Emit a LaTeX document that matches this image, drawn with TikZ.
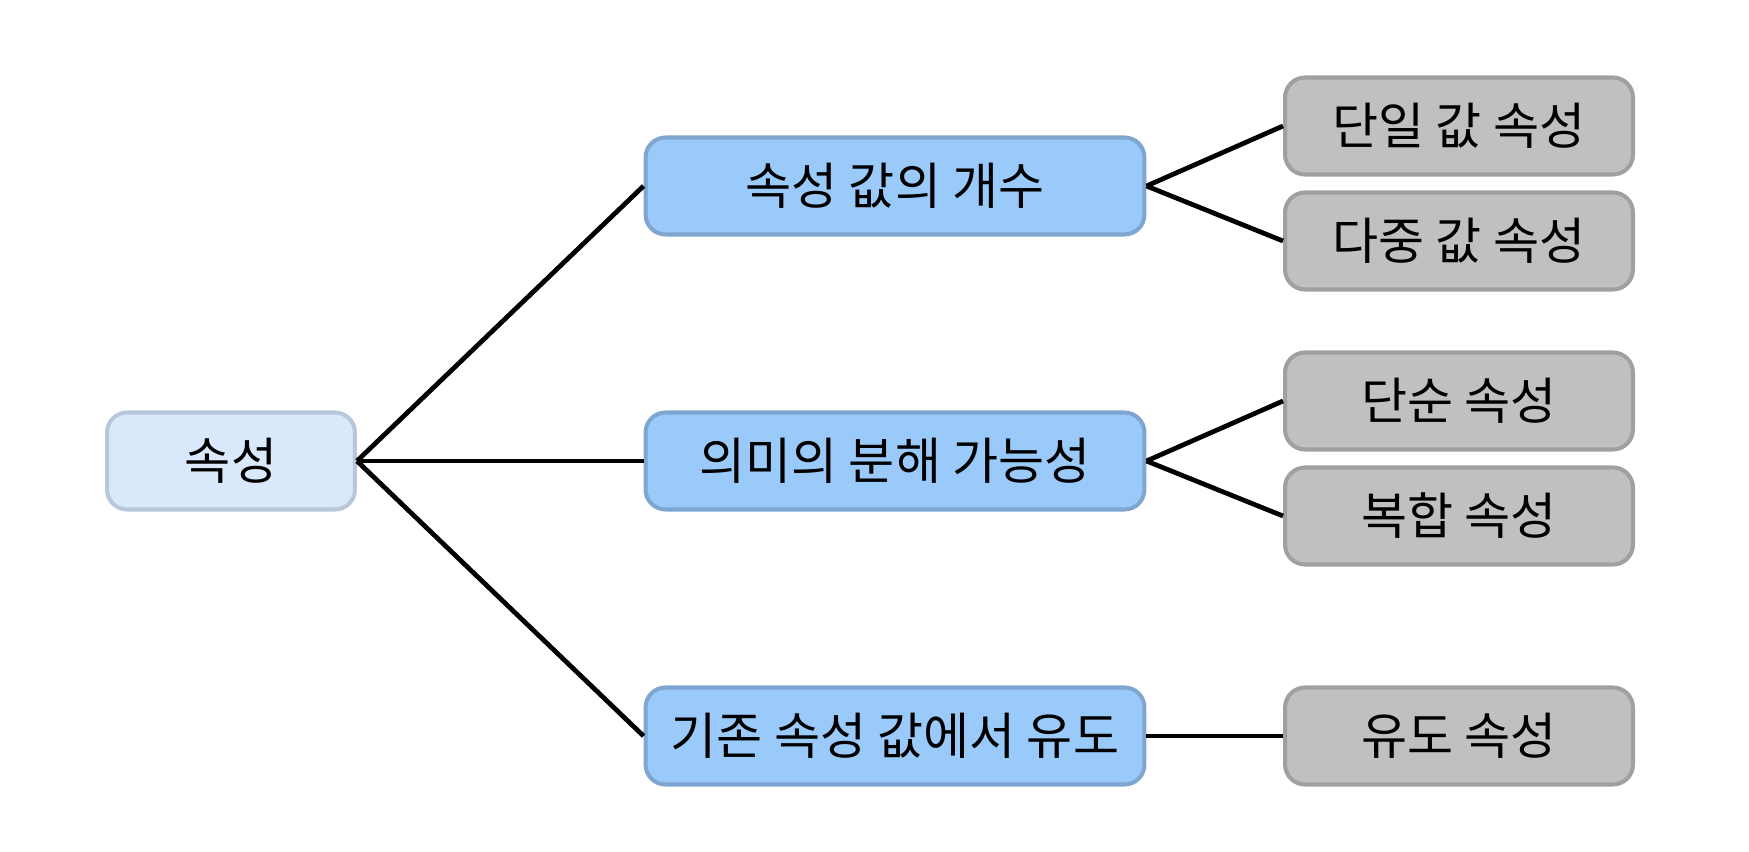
\documentclass[tikz,border=0pt]{standalone}
\usepackage{fontspec}
\setmainfont{Noto Sans CJK KR}
\definecolor{rootfill}{RGB}{218,232,252}
\definecolor{rootdraw}{RGB}{185,199,218}
\definecolor{midfill}{RGB}{153,202,250}
\definecolor{middraw}{RGB}{126,166,208}
\definecolor{leaffill}{RGB}{192,192,192}
\definecolor{leafdraw}{RGB}{160,160,160}
\begin{document}
\begin{tikzpicture}[x=0.02cm,y=-0.02cm,
  box/.style={rounded corners=0.4cm, line width=2.3pt, minimum height=1.94cm, inner sep=0pt, font=\fontsize{28.5}{34}\selectfont},
  rootbox/.style={box, fill=rootfill, draw=rootdraw, minimum width=4.96cm},
  midbox/.style={box, fill=midfill, draw=middraw, minimum width=9.98cm},
  leafbox/.style={box, fill=leaffill, draw=leafdraw, minimum width=6.96cm},
  conn/.style={line width=2.7pt, black}]
\useasboundingbox (0,0) rectangle (1749,852);
\node[rootbox] (root) at (231,461) {속성};
\node[midbox] (m1) at (895,186) {속성 값의 개수};
\node[midbox] (m2) at (895,461) {의미의 분해 가능성};
\node[midbox] (m3) at (895,736) {기존 속성 값에서 유도};
\node[leafbox] (l1) at (1459,126) {단일 값 속성};
\node[leafbox] (l2) at (1459,241) {다중 값 속성};
\node[leafbox] (l3) at (1459,401) {단순 속성};
\node[leafbox] (l4) at (1459,516) {복합 속성};
\node[leafbox] (l5) at (1459,736) {유도 속성};
\draw[conn] (root.east) -- (m1.west);
\draw[conn] (root.east) -- (m2.west);
\draw[conn] (root.east) -- (m3.west);
\draw[conn] (m1.east) -- (l1.west);
\draw[conn] (m1.east) -- (l2.west);
\draw[conn] (m2.east) -- (l3.west);
\draw[conn] (m2.east) -- (l4.west);
\draw[conn] (m3.east) -- (l5.west);
\end{tikzpicture}
\end{document}
